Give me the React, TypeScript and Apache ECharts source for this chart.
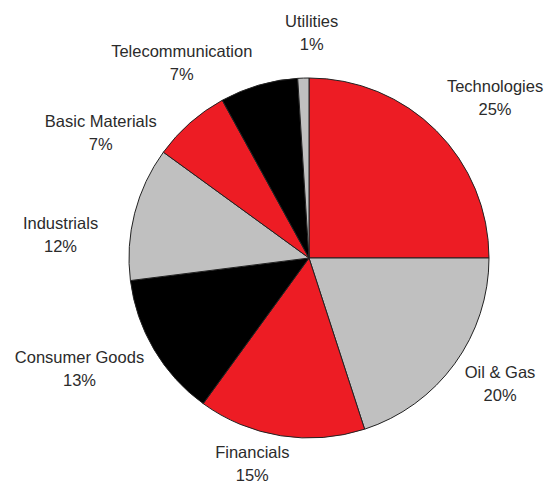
import React, { useEffect, useRef } from "react";
import * as echarts from "echarts";

const categories = [
  "Technologies",
  "Oil & Gas",
  "Financials",
  "Consumer Goods",
  "Industrials",
  "Basic Materials",
  "Telecommunication",
  "Utilities",
];
const shares = [25, 20, 15, 13, 12, 7, 7, 1];
const sliceColors = ["#ED1C24", "#C0C0C0", "#ED1C24", "#000000", "#C0C0C0", "#ED1C24", "#000000", "#C0C0C0"];

// layout tweaks for label placement (pixels), mimicking the original's label fitting
const labelNudge: [number, number][] = [
  [0, 0],
  [-2, -8],
  [-18, -10],
  [3, -5],
  [-22, 33],
  [-27, 44],
  [-45, 15],
  [10, -8],
];

const CX = 309;
const CY = 258;
const R = 180;
const GAP = 15;

export default function App() {
  const ref = useRef<HTMLDivElement>(null);
  useEffect(() => {
    if (!ref.current) return;
    const chart = echarts.init(ref.current, null, { renderer: "svg" });
    const total = shares.reduce((a, b) => a + b, 0);
    const mids: number[] = [];
    let acc = 0;
    shares.forEach((v) => {
      mids.push(((acc + v / 2) / total) * Math.PI * 2);
      acc += v;
    });
    chart.setOption({
      animation: false,
      backgroundColor: "#ffffff",
      series: [
        {
          type: "pie",
          center: [CX, CY],
          radius: R,
          startAngle: 90,
          clockwise: true,
          avoidLabelOverlap: false,
          data: categories.map((name, i) => ({
            name,
            value: shares[i],
            itemStyle: { color: sliceColors[i] },
          })),
          itemStyle: { borderColor: "#222", borderWidth: 1 },
          label: {
            show: true,
            position: "outside",
            formatter: "{b}\n{c}%",
            fontFamily: "Liberation Sans, Arial, sans-serif",
            fontSize: 16.5,
            lineHeight: 23,
            color: "#2b2b2b",
            align: "center",
          },
          labelLine: { show: false },
          emphasis: { disabled: true },
          labelLayout: (params: any) => {
            const i = params.dataIndex;
            const a = mids[i];
            const dx = Math.sin(a);
            const dy = -Math.cos(a);
            const w = params.labelRect.width;
            const h = params.labelRect.height;
            const kx = Math.min(1, Math.abs(dx) * 1.414);
            const ky = Math.min(1, Math.abs(dy) * 1.414);
            const x = CX + dx * (R + GAP) + Math.sign(dx) * (w / 2) * kx + labelNudge[i][0];
            const y = CY + dy * (R + GAP) + Math.sign(dy) * (h / 2) * ky + labelNudge[i][1];
            return { x, y, align: "center", verticalAlign: "middle" };
          },
        },
      ],
    });
    return () => chart.dispose();
  }, []);
  return (
    <div
      ref={ref}
      style={{ position: "fixed", left: 0, top: 0, width: 548, height: 483, background: "#fff" }}
    />
  );
}
